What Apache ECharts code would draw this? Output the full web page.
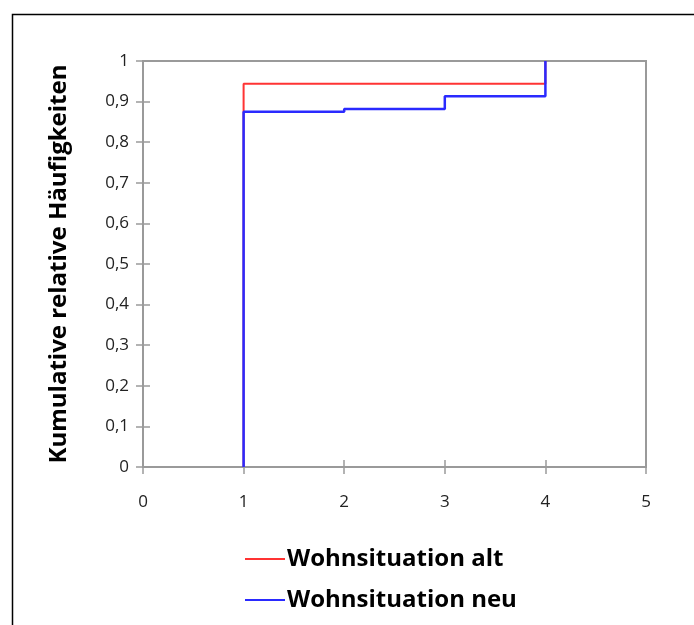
<!DOCTYPE html>
<html><head><meta charset="utf-8">
<script src="https://cdn.jsdelivr.net/npm/echarts@6/dist/echarts.min.js"></script>
<style>html,body{margin:0;padding:0;background:#fff}#c{width:694px;height:625px}</style>
</head><body><div id="c"></div>
<script>
// Data (step points of cumulative relative frequencies)
const seriesNames = ['Wohnsituation alt', 'Wohnsituation neu'];
const altX = [1, 1, 4, 4];
const altY = [0, 0.944, 0.944, 1];
const neuX = [1, 1, 2, 2, 3, 3, 4, 4];
const neuY = [0, 0.875, 0.875, 0.882, 0.882, 0.913, 0.913, 1];
const xTicks = [0, 1, 2, 3, 4, 5];
const yTicks = [0, 0.1, 0.2, 0.3, 0.4, 0.5, 0.6, 0.7, 0.8, 0.9, 1];
const yTitle = 'Kumulative relative Häufigkeiten';

const FONT = 'Open Sans';
const zip = (xs, ys) => xs.map((x, i) => [x, ys[i]]);
const fmt = v => String(Math.round(v * 10) / 10).replace('.', ',');

const axisGray = '#9a9a9a';
const chart = echarts.init(document.getElementById('c'), null, {renderer: 'canvas'});
chart.setOption({
  animation: false,
  backgroundColor: '#fff',
  textStyle: {fontFamily: FONT},
  graphic: [{
    type: 'rect', left: 10, top: 12, z: -10,
    shape: {x: 0, y: 0, width: 800, height: 800},
    style: {fill: 'none', stroke: '#000', lineWidth: 1.5}
  }],
  grid: {left: 143, top: 61, right: 48, bottom: 158, show: true, borderColor: axisGray, borderWidth: 2},
  legend: {
    orient: 'vertical', left: 240, top: 542,
    itemWidth: 40, itemHeight: 2, itemGap: 17, icon: 'rect',
    textStyle: {fontFamily: FONT, fontWeight: 'bold', fontSize: 24, color: '#000', padding: [0, 0, 0, -3]},
    data: seriesNames
  },
  xAxis: [{
    type: 'value', min: 0, max: 5, interval: 1,
    axisLine: {show: true, lineStyle: {color: axisGray, width: 2}},
    axisTick: {show: true, length: 7, lineStyle: {color: axisGray, width: 1.5}},
    axisLabel: {fontFamily: FONT, fontSize: 17, color: '#222', margin: 27, formatter: v => String(v)},
    splitLine: {show: false}
  }, {
    type: 'value', min: 0, max: 5, interval: 1, position: 'bottom',
    axisLine: {show: false},
    axisTick: {show: true, inside: true, length: 7, lineStyle: {color: axisGray, width: 1.5}},
    axisLabel: {show: false}, splitLine: {show: false}
  }],
  yAxis: [{
    type: 'value', min: 0, max: 1, interval: 0.1,
    name: yTitle, nameLocation: 'middle', nameGap: 72, nameRotate: 90,
    nameTextStyle: {fontFamily: FONT, fontWeight: 'bold', fontSize: 24, color: '#000'},
    axisLine: {show: true, lineStyle: {color: axisGray, width: 2}},
    axisTick: {show: true, length: 7, lineStyle: {color: axisGray, width: 1.5}},
    axisLabel: {fontFamily: FONT, fontSize: 17, color: '#222', margin: 14, formatter: fmt},
    splitLine: {show: false}
  }, {
    type: 'value', min: 0, max: 1, interval: 0.1, position: 'left',
    axisLine: {show: false},
    axisTick: {show: true, inside: true, length: 7, lineStyle: {color: axisGray, width: 1.5}},
    axisLabel: {show: false}, splitLine: {show: false}
  }],
  series: [{
    name: seriesNames[0], type: 'line', data: zip(altX, altY),
    showSymbol: false, symbol: 'none', color: '#ff3333',
    lineStyle: {color: '#ff3333', width: 2}, z: 2
  }, {
    name: seriesNames[1], type: 'line', data: zip(neuX, neuY),
    showSymbol: false, symbol: 'none', color: '#2a2aff',
    lineStyle: {color: '#2a2aff', width: 2.5}, z: 3
  }]
});
</script></body></html>
